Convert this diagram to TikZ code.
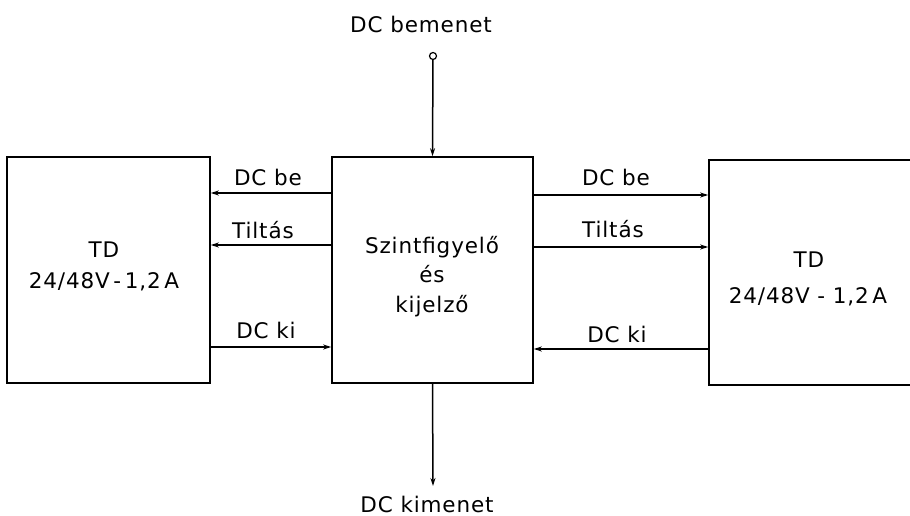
\documentclass[tikz,border=0pt]{standalone}
\usepackage{fontspec}
\setmainfont{DejaVu Sans}[LetterSpace=4]
\usetikzlibrary{arrows.meta}
\tikzset{
  blk/.style={draw, line width=1.6pt, inner sep=0pt},
  lbl/.style={font=\fontsize{21.5}{29}\selectfont, inner sep=0pt, anchor=base, align=center},
  wire/.style={line width=1.5pt},
  arr/.style={wire, -{Stealth[length=8pt,width=5pt]}},
}
\begin{document}
\begin{tikzpicture}[x=1pt,y=-1pt]
\useasboundingbox (0,0) rectangle (910,516);
\clip (0,0) rectangle (910,516);

% blocks
\node[blk, minimum width=203pt, minimum height=226pt] (L) at (108.5,270) {};
\node[blk, minimum width=201pt, minimum height=226pt] (C) at (432.5,270) {};
\node[blk, minimum width=210pt, minimum height=225pt] (R) at (814,272.5) {};

% block texts
\node[lbl] (Lt1) at (104,257) {TD};
\node[lbl] (Lt2) at (104,288) {24/48V\,-\,1,2\,A};
\node[lbl] (Ct1) at (432,253) {Szintfigyelő};
\node[lbl] (Ct2) at (432,282) {és};
\node[lbl] (Ct3) at (432,312) {kijelző};
\node[lbl] (Rt1) at (809,267) {TD};
\node[lbl] (Rt2) at (808,303) {24/48V - 1,2\,A};

% supply input and output
\node[circle, draw, line width=1.2pt, inner sep=0pt, minimum size=7pt] (in) at (433,56) {};
\coordinate (out) at (433,486);
\draw[arr] (in) -- (C.north);
\draw[arr] (C.south) -- (out);
\node[lbl] (tin) at (421,33) {DC bemenet};
\node[lbl] (tout) at (427,512) {DC kimenet};

% left-hand connections
\draw[arr] (C.west |- 0,193) -- (L.east |- 0,193);
\draw[arr] (C.west |- 0,245) -- (L.east |- 0,245);
\draw[arr] (L.east |- 0,347) -- (C.west |- 0,347);
\node[lbl] (l1) at (268,185) {DC be};
\node[lbl] (l2) at (263,238) {Tiltás};
\node[lbl] (l3) at (266,338) {DC ki};

% right-hand connections
\draw[arr] (C.east |- 0,195) -- (R.west |- 0,195);
\draw[arr] (C.east |- 0,247) -- (R.west |- 0,247);
\draw[arr] (R.west |- 0,349) -- (C.east |- 0,349);
\node[lbl] (r1) at (616,185) {DC be};
\node[lbl] (r2) at (613,237) {Tiltás};
\node[lbl] (r3) at (617,342) {DC ki};
\end{tikzpicture}
\end{document}
